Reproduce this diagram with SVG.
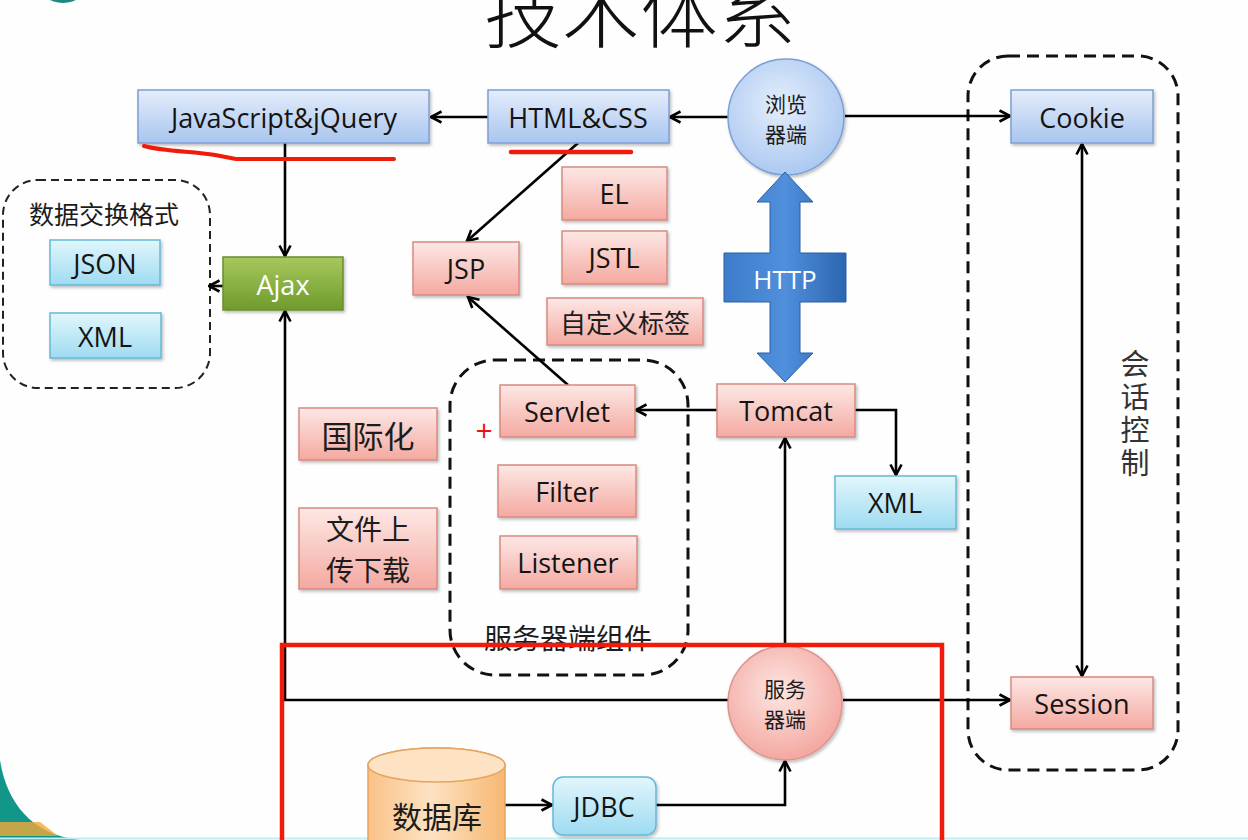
<svg xmlns="http://www.w3.org/2000/svg" width="1248" height="840" viewBox="0 0 1248 840">
<defs>
<linearGradient id="gBlue" x1="0" y1="0" x2="0" y2="1"><stop offset="0" stop-color="#e4edfb"/><stop offset="1" stop-color="#a9c5ef"/></linearGradient>
<linearGradient id="gPink" x1="0" y1="0" x2="0" y2="1"><stop offset="0" stop-color="#fde8e5"/><stop offset="1" stop-color="#f4a9a1"/></linearGradient>
<linearGradient id="gCyan" x1="0" y1="0" x2="0" y2="1"><stop offset="0" stop-color="#e2f6fc"/><stop offset="1" stop-color="#9edbf1"/></linearGradient>
<linearGradient id="gGreen" x1="0" y1="0" x2="0" y2="1"><stop offset="0" stop-color="#a6c85e"/><stop offset="1" stop-color="#6f9b2c"/></linearGradient>
<linearGradient id="gHttp" x1="0" y1="0" x2="1" y2="0"><stop offset="0" stop-color="#3d7cc9"/><stop offset="0.5" stop-color="#4f8fdc"/><stop offset="1" stop-color="#2d65b0"/></linearGradient>
<radialGradient id="gCircBlue" cx="0.45" cy="0.4" r="0.65"><stop offset="0" stop-color="#e4eefc"/><stop offset="1" stop-color="#a8c6f0"/></radialGradient>
<radialGradient id="gCircPink" cx="0.45" cy="0.4" r="0.65"><stop offset="0" stop-color="#fde6e3"/><stop offset="1" stop-color="#f3a39b"/></radialGradient>
<linearGradient id="gDb" x1="0" y1="0" x2="1" y2="0"><stop offset="0" stop-color="#f9c286"/><stop offset="0.45" stop-color="#fde2c2"/><stop offset="1" stop-color="#f7b872"/></linearGradient>
<filter id="sh" x="-10%" y="-10%" width="125%" height="135%"><feDropShadow dx="1.5" dy="2" stdDeviation="1.5" flood-color="#000" flood-opacity="0.25"/></filter>
<marker id="arr" viewBox="0 0 14 14" refX="12.5" refY="7" markerWidth="14" markerHeight="14" markerUnits="userSpaceOnUse" orient="auto-start-reverse"><path d="M2,1.5 L12.5,7 L2,12.5" fill="none" stroke="#000" stroke-width="2.6" stroke-linejoin="miter"/></marker>
<style>
.blue{fill:url(#gBlue);stroke:#7c9fd4;stroke-width:1.5;filter:url(#sh)}
.pink{fill:url(#gPink);stroke:#d88a80;stroke-width:1.5;filter:url(#sh)}
.cyan{fill:url(#gCyan);stroke:#64b8d8;stroke-width:1.5;filter:url(#sh)}
.green{fill:url(#gGreen);stroke:#6a8f2c;stroke-width:1.5;filter:url(#sh)}
.lbl{font-family:"Open Sans","Noto Sans",sans-serif;font-size:27px;fill:#141414;text-anchor:middle;dominant-baseline:central}
.cn{font-family:"Noto Sans CJK SC","Noto Sans",sans-serif;fill:#1c1c1c;text-anchor:middle;dominant-baseline:central}
.dash{fill:none;stroke:#111;stroke-width:3;stroke-dasharray:12 7}
.conn path{fill:none;stroke:#000;stroke-width:2.6}
</style>
</defs>

<rect x="0" y="0" width="1248" height="840" fill="#fdfefd"/>
<!-- slide decoration -->
<path d="M0,760 C6,800 30,835 80,840 L0,840 Z" fill="#13968a"/>
<path d="M0,822 L40,822 L58,836 L0,836 Z" fill="#f3a93a" opacity="0.8"/>
<ellipse cx="63" cy="-16" rx="24" ry="19" fill="#1a8a80"/>
<line x1="0" y1="838.5" x2="1248" y2="838.5" stroke="#bfeef5" stroke-width="2"/>

<text x="640" y="42" font-family="'Noto Sans CJK SC',sans-serif" font-size="78" font-weight="300" fill="#111" text-anchor="middle">技术体系</text>

<!-- dashed groupings -->
<g id="data-format-group">
<rect x="3" y="180" width="207" height="208" rx="35" fill="none" stroke="#222" stroke-width="2" stroke-dasharray="8 5"/>
<text class="cn" x="104" y="213" font-size="25">数据交换格式</text>
</g>
<g id="server-components-group">
<rect class="dash" x="450" y="360" width="238" height="315" rx="45"/>
<text class="cn" x="568" y="637" font-size="28">服务器端组件</text>
</g>
<g id="session-control-group">
<rect class="dash" x="968" y="56" width="210" height="714" rx="40"/>
<text x="1135" y="349" font-family="'Noto Sans CJK SC',sans-serif" font-size="29" fill="#333" writing-mode="vertical-rl" letter-spacing="4">会话控制</text>
</g>

<!-- connectors -->
<g id="connectors" class="conn">
<path d="M728,117 L670,117" marker-end="url(#arr)"/>
<path d="M488,117 L431,117" marker-end="url(#arr)"/>
<path d="M845,116 L1010,116" marker-end="url(#arr)"/>
<path d="M1082,144 L1082,676" marker-start="url(#arr)" marker-end="url(#arr)"/>
<path d="M285,143 L285,256" marker-end="url(#arr)"/>
<path d="M223,286 L209,286" marker-end="url(#arr)"/>
<path d="M728,700 L285,700 L285,311" marker-end="url(#arr)"/>
<path d="M843,700 L1010,700" marker-end="url(#arr)"/>
<path d="M785,647 L785,438" marker-end="url(#arr)"/>
<path d="M717,410 L636,410" marker-end="url(#arr)"/>
<path d="M855,410 L896,410 L896,475" marker-end="url(#arr)"/>
<path d="M578,143 L467,241" marker-end="url(#arr)"/>
<path d="M568,385 L468,297" marker-end="url(#arr)"/>
<path d="M505,805 L552,805" marker-end="url(#arr)"/>
<path d="M656,805 L785,805 L785,761" marker-end="url(#arr)"/>
</g>

<!-- nodes -->
<g id="js"><rect class="blue" x="138" y="90" width="291" height="53"/><text class="lbl" x="284" y="117">JavaScript&amp;jQuery</text></g>
<g id="htmlcss"><rect class="blue" x="488" y="90" width="181" height="53"/><text class="lbl" x="578" y="117">HTML&amp;CSS</text></g>
<g id="browser"><circle cx="786" cy="117" r="58" fill="url(#gCircBlue)" stroke="#7c9fd4" stroke-width="1.5" filter="url(#sh)"/><text class="cn" x="786" y="103" font-size="21"><tspan x="786" y="103">浏览</tspan><tspan x="786" y="133">器端</tspan></text></g>
<g id="cookie"><rect class="blue" x="1011" y="90" width="142" height="53"/><text class="lbl" x="1082" y="117">Cookie</text></g>
<g id="session"><rect class="pink" x="1011" y="677" width="142" height="52"/><text class="lbl" x="1082" y="703">Session</text></g>
<g id="http"><path d="M785,172 L813,202 L800,202 L800,253 L846,253 L846,302 L800,302 L800,353 L813,353 L785,382 L757,353 L770,353 L770,302 L724,302 L724,253 L770,253 L770,202 L757,202 Z" fill="url(#gHttp)" stroke="#2a5ea6" stroke-width="1"/><text x="785" y="279" font-family="'Open Sans',sans-serif" font-size="26" fill="#fff" text-anchor="middle" dominant-baseline="central">HTTP</text></g>
<g id="tomcat"><rect class="pink" x="717" y="384" width="138" height="53"/><text class="lbl" x="786" y="410">Tomcat</text></g>
<g id="xml-server"><rect class="cyan" x="835" y="476" width="121" height="53"/><text class="lbl" x="895" y="502">XML</text></g>
<g id="servlet"><rect class="pink" x="500" y="385" width="135" height="52"/><text class="lbl" x="567" y="411">Servlet</text><text x="484" y="429" font-family="'Open Sans',sans-serif" font-size="30" fill="#f01010" text-anchor="middle" dominant-baseline="central">+</text></g>
<g id="filter"><rect class="pink" x="498" y="465" width="138" height="52"/><text class="lbl" x="567" y="491">Filter</text></g>
<g id="listener"><rect class="pink" x="500" y="536" width="137" height="53"/><text class="lbl" x="568" y="562">Listener</text></g>
<g id="i18n"><rect class="pink" x="299" y="408" width="138" height="52"/><text class="cn" x="368" y="434" font-size="31">国际化</text></g>
<g id="upload"><rect class="pink" x="299" y="508" width="138" height="81"/><text class="cn" x="368" y="528" font-size="28"><tspan x="368" y="528">文件上</tspan><tspan x="368" y="569">传下载</tspan></text></g>
<g id="jsp"><rect class="pink" x="413" y="242" width="106" height="53"/><text class="lbl" x="466" y="268">JSP</text></g>
<g id="el"><rect class="pink" x="562" y="167" width="105" height="53"/><text class="lbl" x="614" y="193">EL</text></g>
<g id="jstl"><rect class="pink" x="562" y="231" width="105" height="53"/><text class="lbl" x="614" y="257">JSTL</text></g>
<g id="customtag"><rect class="pink" x="547" y="298" width="156" height="47"/><text class="cn" x="625" y="321" font-size="26">自定义标签</text></g>
<g id="ajax"><rect class="green" x="223" y="257" width="120" height="53"/><text class="lbl" x="283" y="284" style="fill:#fff">Ajax</text></g>
<g id="json"><rect class="cyan" x="50" y="240" width="110" height="45"/><text class="lbl" x="105" y="263">JSON</text></g>
<g id="xml-data"><rect class="cyan" x="50" y="313" width="111" height="45"/><text class="lbl" x="105" y="336">XML</text></g>
<g id="server"><ellipse cx="785" cy="703" rx="57" ry="57" fill="url(#gCircPink)" stroke="#d9958e" stroke-width="1.5" filter="url(#sh)"/><text class="cn" x="785" y="688" font-size="21"><tspan x="785" y="688">服务</tspan><tspan x="785" y="718">器端</tspan></text></g>
<g id="database"><path d="M368,765 A68.5,17 0 0 1 505,765 L505,860 L368,860 Z" fill="url(#gDb)" stroke="#e6a45e" stroke-width="1.5"/><ellipse cx="436.5" cy="765" rx="68.5" ry="17" fill="#fde3c4" stroke="#e6a45e" stroke-width="1.5"/><text class="cn" x="437" y="815" font-size="30">数据库</text></g>
<g id="jdbc"><rect class="cyan" x="553" y="777" width="103" height="58" rx="10"/><text class="lbl" x="604" y="806">JDBC</text></g>

<!-- annotations -->
<g id="annotations" fill="none" stroke="#f21a0a" stroke-linecap="round">
<path d="M144,146 C165,152 195,151 215,155 L236,159 L394,159" stroke-width="4"/>
<path d="M511,152 L631,152" stroke-width="4.5"/>
<rect x="282" y="645" width="660" height="230" stroke-width="4.5" stroke-linecap="butt"/>
</g>
</svg>
